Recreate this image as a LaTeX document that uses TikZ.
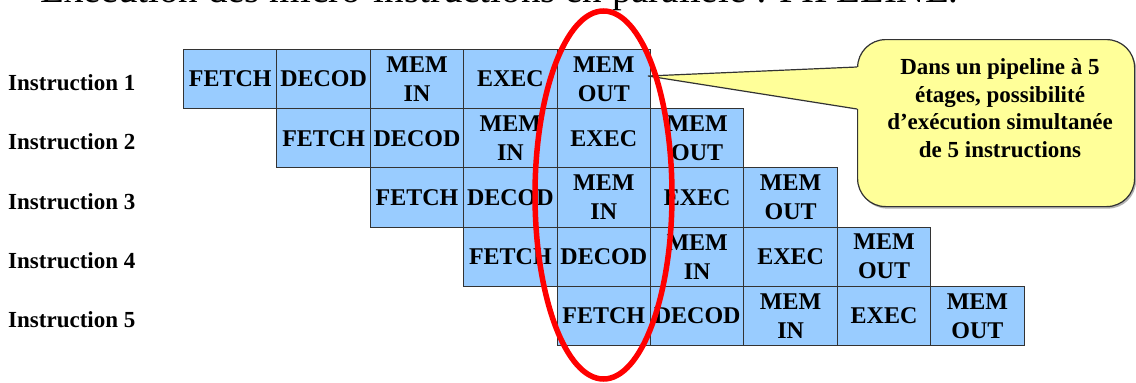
\documentclass[tikz,border=0pt]{standalone}
\usepackage{fontspec}
\setmainfont{Liberation Serif}
\usetikzlibrary{shapes.geometric}
\definecolor{cellblue}{HTML}{99CCFF}
\definecolor{calloutyellow}{HTML}{FFFF99}
\definecolor{edgegray}{HTML}{333333}
\tikzset{
  cell/.style={draw=edgegray, line width=1pt, fill=cellblue, minimum width=93.4pt,
    minimum height=59.2pt, inner sep=0pt, align=center, anchor=north west,
    font=\fontsize{24}{29}\selectfont\bfseries},
  ilabel/.style={anchor=base west, inner sep=0pt, font=\fontsize{23}{28}\selectfont\bfseries},
  calloutbox/.style={draw=edgegray, line width=1.2pt, fill=calloutyellow, rounded corners=28pt,
    minimum width=277pt, minimum height=167pt, anchor=north west, inner sep=0pt},
  callouttext/.style={align=center, inner sep=0pt, font=\fontsize{23}{27.5}\selectfont\bfseries},
  oval/.style={ellipse, draw=red, line width=5.5pt, minimum width=137pt, minimum height=368pt, inner sep=0pt},
  titletext/.style={anchor=base west, inner sep=0pt, font=\fontsize{39}{44}\selectfont}
}
\begin{document}
\begin{tikzpicture}[x=1pt,y=-1pt]
\useasboundingbox (0,0) rectangle (1136,383);
\fill[white] (0,0) rectangle (1136,383);
\clip (0,0) rectangle (1136,383);
% title (cut off by the top edge)
\node[titletext] (title) at (40,2.5) {Exécution des micro-instructions en parallèle : PIPELINE.};
% pipeline cells
\foreach \r in {1,...,5} {
  \foreach \t [count=\k from 0] in {FETCH,DECOD,MEM\\IN,EXEC,MEM\\OUT} {
    \node[cell] (c\r\k) at ({183+93.4*(\r-1+\k)}, {49+59.2*(\r-1)}) {\t};
  }
  \node[ilabel] (i\r) at (8, {78.6+59.2*(\r-1)+12}) {Instruction \r};
}
% callout
\node[calloutbox, fill=black!30, draw=none] (shadow) at (858.5,41) {};
\node[calloutbox] (callout) at (857,39) {};
\coordinate (tip) at (648,76);
\coordinate (pa) at (857,67);
\coordinate (pb) at (857,109);
\fill[calloutyellow] ([xshift=2pt]pa) -- (tip) -- ([xshift=2pt]pb) -- cycle;
\draw[edgegray, line width=1.2pt, line join=miter] (pa) -- (tip) -- (pb);
\node[callouttext] (ctext) at (1000,108) {Dans un pipeline à 5\\étages, possibilité\\d’exécution simultanée\\de 5 instructions};
% red oval
\node[oval] (circ) at (603.5,195) {};
\end{tikzpicture}
\end{document}
